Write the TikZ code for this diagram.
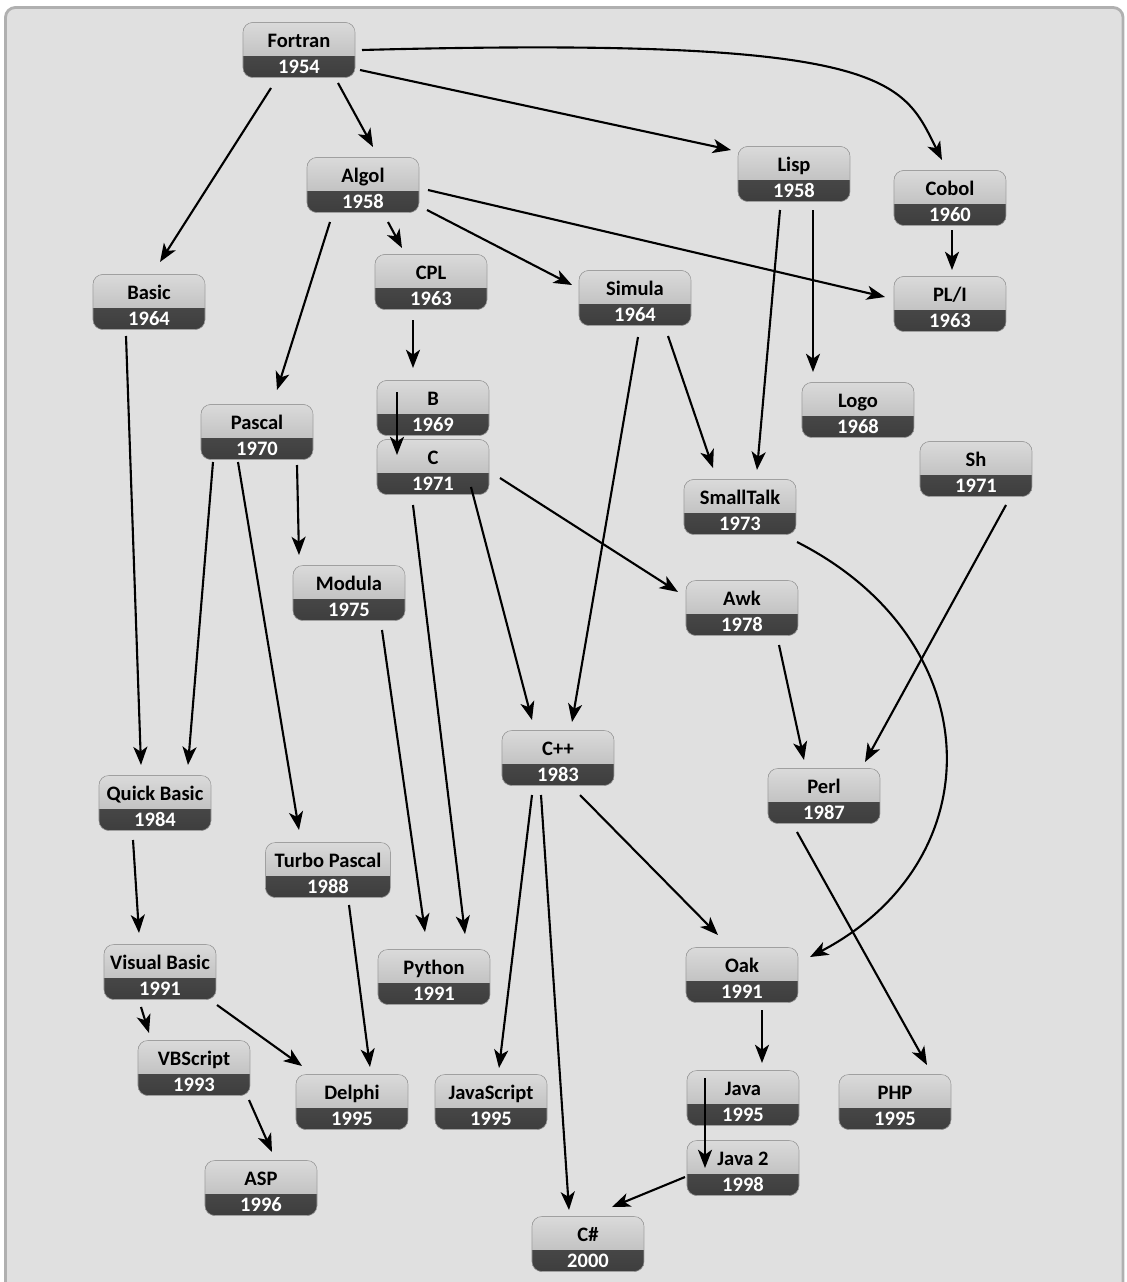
\documentclass[tikz,border=0pt]{standalone}
\usepackage{fontspec}
\usepackage{tikz}
\usetikzlibrary{arrows.meta,positioning,calc}
\newfontfamily\carlito{Carlito}
\definecolor{panelfill}{RGB}{224,224,224}
\definecolor{panelrim}{RGB}{176,176,176}
\definecolor{capTop}{RGB}{218,218,218}
\definecolor{capMid}{RGB}{244,244,244}
\definecolor{capLow}{RGB}{180,180,180}
\definecolor{barTop}{RGB}{70,70,70}
\definecolor{barMid}{RGB}{30,30,30}
\definecolor{barLow}{RGB}{62,62,62}
\definecolor{langrim}{RGB}{160,160,160}

\begin{document}
\begin{tikzpicture}[
    x=0.025cm, y=-0.025cm,
    panel/.style={fill=panelfill, draw=panelrim, line width=2pt, rounded corners=7pt},
    lang/.style={rectangle, draw=langrim, line width=0.4pt, rounded corners=7pt,
        minimum width=2.8cm, minimum height=1.375cm, inner xsep=0.05cm, inner ysep=0pt,
        text height=0.615cm, text depth=0.76cm,
        font=\carlito\bfseries\fontsize{14.6}{17}\selectfont,
        path picture={
            \fill[sharp corners, top color=capTop, middle color=capMid, bottom color=capLow]
                (path picture bounding box.north west) rectangle ([yshift=0.525cm]path picture bounding box.south east);
            \fill[sharp corners, top color=barTop, middle color=barMid, bottom color=barLow]
                (path picture bounding box.south west) rectangle ([yshift=0.525cm]path picture bounding box.south east);
        }},
    year/.style={text=white, anchor=base, inner sep=0pt, yshift=0.11cm,
        font=\carlito\bfseries\fontsize{14.6}{17}\selectfont},
    arrow/.style={-{Stealth[length=13pt, width=10pt, inset=3.5pt]}, line width=1.5pt}
]

% Frame
\useasboundingbox (0,0) rectangle (1126,1282);
\fill[white] (0,0) rectangle (1126,1282);
\begin{scope}
\clip (0,0) rectangle (1126,1282);
\draw[panel] (5.5,7.5) rectangle (1123,1320);
\end{scope}

% Languages
\node[lang, label={[year]below:1954}] (fortran) at (299,50) {Fortran};
\node[lang, label={[year]below:1958}] (algol) at (363,185) {Algol};
\node[lang, label={[year]below:1958}] (lisp) at (794,174) {Lisp};
\node[lang, label={[year]below:1960}] (cobol) at (950,198) {Cobol};
\node[lang, label={[year]below:1964}] (basic) at (149,302) {Basic};
\node[lang, label={[year]below:1963}] (cpl) at (431,282) {CPL};
\node[lang, label={[year]below:1964}] (simula) at (635,298) {Simula};
\node[lang, label={[year]below:1963}] (pli) at (950,304) {PL/I};
\node[lang, label={[year]below:1970}] (pascal) at (257,432) {Pascal};
\node[lang, label={[year]below:1969}] (b) at (433,408) {B};
\node[lang, label={[year]below:1971}] (c) at (433,467) {C};
\node[lang, label={[year]below:1968}] (logo) at (858,410) {Logo};
\node[lang, label={[year]below:1971}] (sh) at (976,469) {Sh};
\node[lang, label={[year]below:1973}] (smalltalk) at (740,507) {SmallTalk};
\node[lang, label={[year]below:1975}] (modula) at (349,593) {Modula};
\node[lang, label={[year]below:1978}] (awk) at (742,608) {Awk};
\node[lang, label={[year]below:1983}] (cpp) at (558,758) {C++};
\node[lang, label={[year]below:1987}] (perl) at (824,796) {Perl};
\node[lang, label={[year]below:1984}] (quickbasic) at (155,803) {Quick Basic};
\node[lang, minimum width=3.125cm, label={[year]below:1988}] (turbopascal) at (328,870) {Turbo Pascal};
\node[lang, label={[year]below:1991}] (visualbasic) at (160,972) {Visual Basic};
\node[lang, label={[year]below:1991}] (python) at (434,977) {Python};
\node[lang, label={[year]below:1991}] (oak) at (742,975) {Oak};
\node[lang, label={[year]below:1993}] (vbscript) at (194,1068) {VBScript};
\node[lang, label={[year]below:1995}] (delphi) at (352,1102) {Delphi};
\node[lang, label={[year]below:1995}] (javascript) at (491,1102) {JavaScript};
\node[lang, label={[year]below:1995}] (java) at (743,1098) {Java};
\node[lang, label={[year]below:1995}] (php) at (895,1102) {PHP};
\node[lang, label={[year]below:1998}] (java2) at (743,1168) {Java 2};
\node[lang, label={[year]below:1996}] (asp) at (261,1188) {ASP};
\node[lang, label={[year]below:2000}] (csharp) at (588,1244) {C\#};

% Arrows
\draw[arrow] ([shift={(39,33)}]fortran.center) -- ([shift={(10,-38)}]algol.center);
\draw[arrow] ([shift={(-28,38)}]fortran.center) -- ([shift={(11,-40)}]basic.center);
\draw[arrow] ([shift={(61,20)}]fortran.center) -- ([shift={(-63,-24)}]lisp.center);
\draw[arrow] ([shift={(63,0)}]fortran.center) .. controls +(530,-14) and +(-40,-80) .. ([shift={(-8,-38)}]cobol.center);
\draw[arrow] ([shift={(25,37)}]algol.center) -- ([shift={(-29,-34)}]cpl.center);
\draw[arrow] ([shift={(64,25)}]algol.center) -- ([shift={(-63,-13)}]simula.center);
\draw[arrow] ([shift={(65,5)}]algol.center) -- ([shift={(-65,-7)}]pli.center);
\draw[arrow] ([shift={(-33,37)}]algol.center) -- ([shift={(20,-42)}]pascal.center);
\draw[arrow] ([shift={(-18,38)}]cpl.center) -- ([shift={(-20,-40)}]b.center);
\draw[arrow] ([shift={(-36,-16)}]b.center) -- ([shift={(-36,-12)}]c.center);
\draw[arrow] ([shift={(-14,36)}]lisp.center) -- ([shift={(17,-37)}]smalltalk.center);
\draw[arrow] ([shift={(19,36)}]lisp.center) -- ([shift={(-45,-38)}]logo.center);
\draw[arrow] ([shift={(2,32)}]cobol.center) -- ([shift={(2,-34)}]pli.center);
\draw[arrow] ([shift={(-23,34)}]basic.center) -- ([shift={(-14,-38)}]quickbasic.center);
\draw[arrow] ([shift={(33,38)}]simula.center) -- ([shift={(-27,-39)}]smalltalk.center);
\draw[arrow] ([shift={(3,39)}]simula.center) -- ([shift={(14,-36)}]cpp.center);
\draw[arrow] ([shift={(-44,30)}]pascal.center) -- ([shift={(33,-38)}]quickbasic.center);
\draw[arrow] ([shift={(40,33)}]pascal.center) -- ([shift={(-50,-38)}]modula.center);
\draw[arrow] ([shift={(-19,30)}]pascal.center) -- ([shift={(-29,-40)}]turbopascal.center);
\draw[arrow] ([shift={(38,20)}]c.center) -- ([shift={(-26,-38)}]cpp.center);
\draw[arrow] ([shift={(67,11)}]c.center) -- ([shift={(-64,-16)}]awk.center);
\draw[arrow] ([shift={(-20,38)}]c.center) -- ([shift={(31,-43)}]python.center);
\draw[arrow] ([shift={(57,35)}]smalltalk.center) .. controls +(193,98) and +(185,-97) .. ([shift={(68,-18)}]oak.center);
\draw[arrow] ([shift={(30,36)}]sh.center) -- ([shift={(41,-34)}]perl.center);
\draw[arrow] ([shift={(37,37)}]awk.center) -- ([shift={(-20,-36)}]perl.center);
\draw[arrow] ([shift={(33,37)}]modula.center) -- ([shift={(-9,-45)}]python.center);
\draw[arrow] ([shift={(-26,37)}]cpp.center) -- ([shift={(8,-34)}]javascript.center);
\draw[arrow] ([shift={(-17,37)}]cpp.center) -- ([shift={(-19,-34)}]csharp.center);
\draw[arrow] ([shift={(22,37)}]cpp.center) -- ([shift={(-24,-40)}]oak.center);
\draw[arrow] ([shift={(-27,36)}]perl.center) -- ([shift={(32,-37)}]php.center);
\draw[arrow] ([shift={(-22,37)}]quickbasic.center) -- ([shift={(-21,-39)}]visualbasic.center);
\draw[arrow] ([shift={(21,35)}]turbopascal.center) -- ([shift={(18,-35)}]delphi.center);
\draw[arrow] ([shift={(-19,35)}]visualbasic.center) -- ([shift={(-45,-35)}]vbscript.center);
\draw[arrow] ([shift={(57,33)}]visualbasic.center) -- ([shift={(-50,-36)}]delphi.center);
\draw[arrow] ([shift={(55,32)}]vbscript.center) -- ([shift={(11,-36)}]asp.center);
\draw[arrow] ([shift={(20,35)}]oak.center) -- ([shift={(19,-35)}]java.center);
\draw[arrow] ([shift={(-38,-20)}]java.center) -- ([shift={(-38,0)}]java2.center);
\draw[arrow] ([shift={(-58,9)}]java2.center) -- ([shift={(24,-37)}]csharp.center);

\end{tikzpicture}
\end{document}
